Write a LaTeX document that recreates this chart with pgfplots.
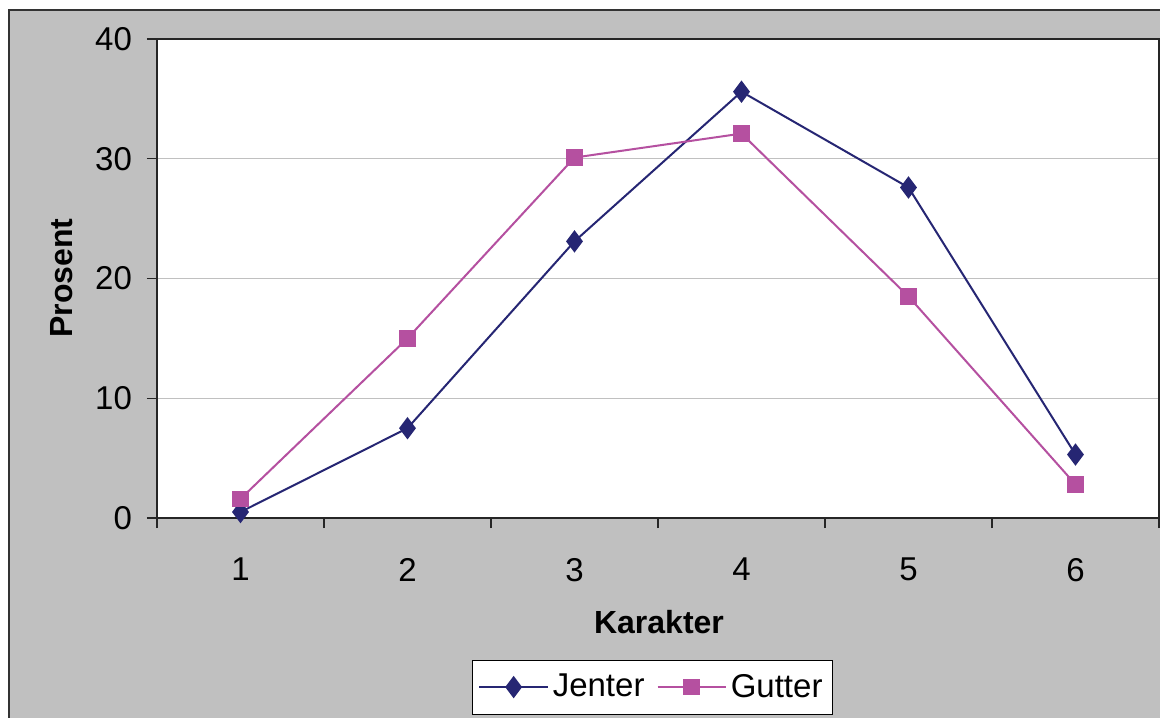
\documentclass[border=0pt]{standalone}
\usepackage{fontspec}
\setmainfont{Liberation Sans}
\usepackage{pgfplots}
\pgfplotsset{compat=1.18}
\definecolor{bg}{RGB}{192,192,192}
\definecolor{jenter}{RGB}{38,38,115}
\definecolor{gutter}{RGB}{181,80,160}
\begin{document}
\begin{tikzpicture}
% picture frame: 1 px = 0.5pt, axis lower left at (0,0)
\useasboundingbox (-78.5pt,-99.5pt) rectangle (501.5pt,259pt);
\fill[white] (-78.5pt,-99.5pt) rectangle (501.5pt,259pt);
\filldraw[fill=bg, draw=black!80, line width=1pt] (-74pt,-120pt) rectangle (520pt,254pt);
\begin{axis}[
  scale only axis,
  width=501pt, height=239.5pt,
  xmin=0.5, xmax=6.5, ymin=0, ymax=40,
  axis background/.style={fill=white},
  axis line style={black!85, line width=0.6pt},
  xtick={1,2,3,4,5,6},
  minor xtick={0.5,1.5,2.5,3.5,4.5,5.5,6.5},
  ytick={0,10,20,30,40},
  major x tick style={draw=none},
  tick align=outside, tick pos=left,
  major tick length=5pt, minor tick length=5pt,
  tick style={black!85, line width=0.6pt},
  ymajorgrids, major grid style={bg, line width=0.6pt},
  tick label style={font=\fontsize{16.5}{19}\selectfont},
  /pgf/number format/assume math mode=true,
  xticklabel style={yshift=-11.5pt},
  yticklabel style={xshift=-4pt},
  xlabel={\textbf{Karakter}}, ylabel={\textbf{Prosent}},
  label style={font=\fontsize{16}{19}\selectfont},
  xlabel style={at={(axis description cs:0.501,-0.217)}, anchor=center},
  ylabel style={at={(axis description cs:-0.095,0.501)}, anchor=center},
  legend columns=2,
  legend style={at={(axis description cs:0.4945,-0.353)}, anchor=center,
    draw=black, fill=white, font=\fontsize{16.5}{19}\selectfont,
    inner xsep=3pt, inner ysep=5pt,
    /tikz/every even column/.append style={column sep=4pt}},
  legend image code/.code={\draw[mark repeat=2,mark phase=2] plot coordinates {(0cm,0cm) (0.6cm,0cm) (1.2cm,0cm)};},
]
\addplot[color=jenter, line width=1pt, mark=diamond*, mark size=4.8pt, mark options={fill=jenter, draw=jenter}]
  coordinates {(1,0.5) (2,7.5) (3,23.1) (4,35.6) (5,27.6) (6,5.3)};
\addlegendentry{Jenter}
\addplot[color=gutter, line width=1pt, mark=square*, mark size=3.6pt, mark options={fill=gutter, draw=gutter}]
  coordinates {(1,1.6) (2,15.0) (3,30.1) (4,32.1) (5,18.5) (6,2.8)};
\addlegendentry{Gutter}
\end{axis}
\end{tikzpicture}
\end{document}
